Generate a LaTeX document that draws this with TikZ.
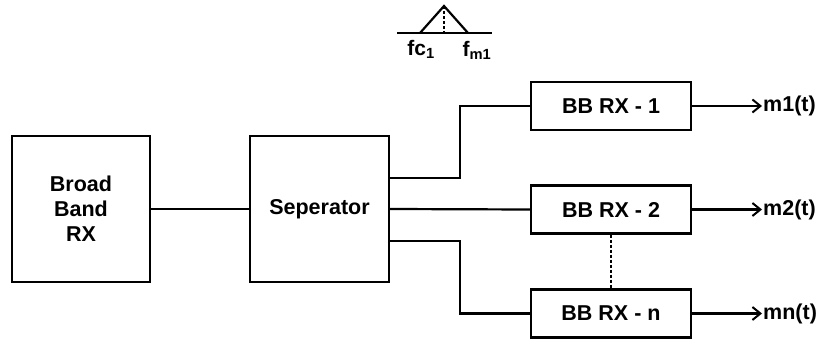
\documentclass[tikz,border=0pt]{standalone}
\usepackage{fontspec}
\setmainfont{Liberation Sans}
\usepackage{tikz}
\usetikzlibrary{arrows.meta, positioning, calc}

\begin{document}
\begin{tikzpicture}[x=1pt, y=-1pt,
  blk/.style={draw, line width=2.2pt, font=\fontsize{21.5}{25}\selectfont\bfseries, align=center, inner sep=0pt},
  rxbox/.style={blk, minimum width=160pt, minimum height=48pt},
  wire/.style={line width=2.2pt},
  outarr/.style={wire, -{Straight Barb[length=8pt, width=13pt, line width=2pt]}},
  outlbl/.style={anchor=west, inner sep=1pt, font=\fontsize{21.5}{25}\selectfont\bfseries}]
\useasboundingbox (0,0) rectangle (823,340);
% spectrum sketch
\draw[wire] (397,33) -- (492,33);
\draw[wire] (420,33) -- (444,6) -- (468,33);
\draw[wire, dash pattern=on 3pt off 2pt] (444,6) -- (444,33);
\node[font=\fontsize{21}{24}\selectfont\bfseries] (fc) at (421,49) {fc\textsubscript{1}};
\node[font=\fontsize{21}{24}\selectfont\bfseries] (fm) at (477,50) {f\textsubscript{m1}};
% blocks
\node[blk, minimum width=138pt, minimum height=146pt] (bbrx) at (81,209) {Broad\\Band\\RX};
\node[blk, minimum width=139pt, minimum height=146pt] (sep) at (319.5,209) {Seperator};
\node[rxbox] (rx1) at (611,106) {BB RX - 1};
\node[rxbox] (rx2) at (611,209.5) {BB RX - 2};
\node[rxbox] (rxn) at (611,313.5) {BB RX - n};
\node[outlbl] (m1) at (762,106) {m1(t)};
\node[outlbl] (m2) at (762,209.5) {m2(t)};
\node[outlbl] (mn) at (762,313.5) {mn(t)};
% connections
\draw[wire] (bbrx) -- (sep);
\draw[wire] ([yshift=31pt]sep.east) -| ($(sep.east)!0.5!(rx1.west)$) |- (rx1.west);
\draw[wire] (sep.east) -- (rx2.west);
\draw[wire] ([yshift=-32pt]sep.east) -| ($(sep.east)!0.5!(rxn.west)$) |- (rxn.west);
\draw[wire, dash pattern=on 3pt off 2pt] (rx2.south) -- (rxn.north);
\draw[outarr] (rx1) -- (m1);
\draw[outarr] (rx2) -- (m2);
\draw[outarr] (rxn) -- (mn);
\end{tikzpicture}
\end{document}
